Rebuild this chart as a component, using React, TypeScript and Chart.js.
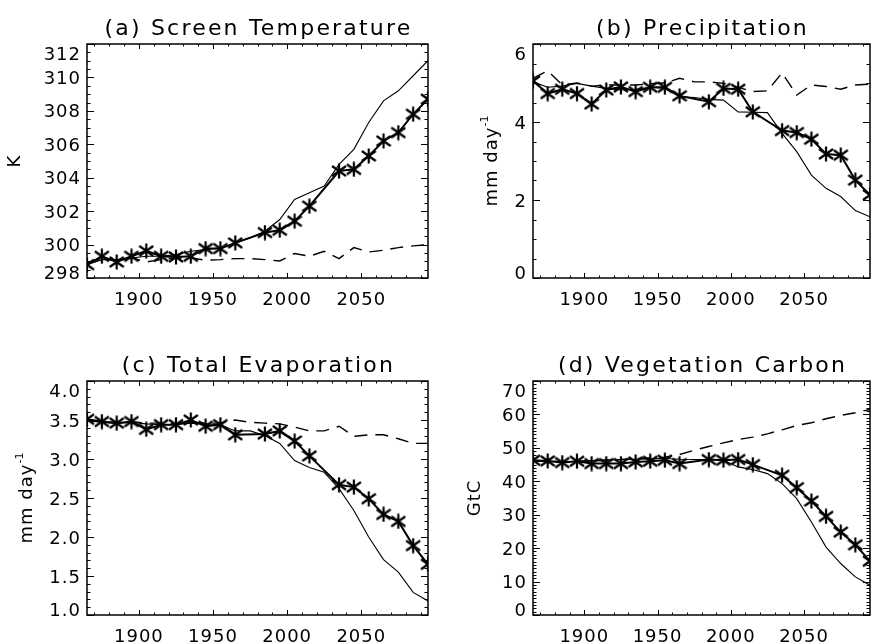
import React, { useEffect, useRef } from "react";
import { Chart, registerables } from "chart.js";
Chart.register(...registerables);

// ---------- data ----------
const DECADE_YEARS = [1865, 1875, 1885, 1895, 1905, 1915, 1925, 1935, 1945, 1955, 1965, 1975, 1985, 1995, 2005, 2015, 2025, 2035, 2045, 2055, 2065, 2075, 2085, 2095];
const MARKED_YEARS = [1865, 1875, 1885, 1895, 1905, 1915, 1925, 1935, 1945, 1955, 1965, 1985, 1995, 2005, 2015, 2035, 2045, 2055, 2065, 2075, 2085, 2095];
const X_TICK_LABELS = [1900, 1950, 2000, 2050];

const tempStar = [298.8, 299.3, 298.96, 299.3, 299.62, 299.3, 299.26, 299.3, 299.76, 299.76, 300.1, 300.72, 300.86, 301.4, 302.3, 304.4, 304.5, 305.3, 306.2, 306.7, 307.8, 308.7];
const tempThin = [298.8, 299.1, 299.1, 299.2, 299.3, 299.3, 299.4, 299.6, 299.7, 299.8, 300.1, 300.4, 300.8, 301.5, 302.7, 303.1, 303.5, 304.8, 305.7, 307.3, 308.6, 309.2, 310.1, 311.0];
const tempCtrl = [298.9, 299.2, 299.0, 299.2, 298.96, 299.1, 299.2, 299.2, 299.06, 299.1, 299.16, 299.16, 299.1, 299.02, 299.46, 299.3, 299.6, 299.16, 299.82, 299.56, 299.66, 299.82, 299.92, 300.0];
const tempTicks = [298, 300, 302, 304, 306, 308, 310, 312];

const precStar = [5.05, 4.73, 4.84, 4.73, 4.46, 4.82, 4.9, 4.78, 4.89, 4.89, 4.67, 4.52, 4.86, 4.84, 4.26, 3.78, 3.73, 3.56, 3.18, 3.15, 2.51, 2.13];
const precThin = [5.03, 4.89, 4.92, 4.99, 4.92, 4.86, 4.82, 4.84, 4.89, 4.86, 4.65, 4.63, 4.58, 4.56, 4.26, 4.25, 4.24, 3.71, 3.24, 2.64, 2.3, 2.09, 1.73, 1.57];
const precCtrl = [5.12, 5.31, 4.95, 5.0, 4.92, 4.95, 4.95, 4.95, 4.98, 5.0, 5.12, 5.03, 5.03, 4.99, 4.89, 4.78, 4.8, 5.26, 4.69, 4.95, 4.91, 4.84, 4.95, 4.97];
const precTicks = [0, 2, 4, 6];

const evapStar = [3.51, 3.48, 3.46, 3.48, 3.38, 3.44, 3.44, 3.5, 3.42, 3.44, 3.31, 3.32, 3.36, 3.23, 3.04, 2.67, 2.64, 2.49, 2.29, 2.2, 1.89, 1.65];
const evapThin = [3.49, 3.47, 3.46, 3.47, 3.45, 3.44, 3.44, 3.46, 3.45, 3.44, 3.36, 3.36, 3.3, 3.2, 2.98, 2.89, 2.83, 2.62, 2.34, 2.0, 1.71, 1.55, 1.29, 1.18];
const evapCtrl = [3.5, 3.48, 3.47, 3.48, 3.46, 3.46, 3.45, 3.47, 3.46, 3.46, 3.5, 3.47, 3.46, 3.45, 3.41, 3.36, 3.36, 3.42, 3.29, 3.31, 3.31, 3.26, 3.2, 3.2];
const evapTicks = [1.0, 1.5, 2.0, 2.5, 3.0, 3.5, 4.0];

const vegStar = [46.3, 46.1, 45.6, 46.0, 45.3, 45.3, 45.3, 45.8, 46.0, 46.3, 45.3, 46.5, 46.3, 46.5, 45.0, 41.8, 38.1, 34.1, 29.5, 24.8, 21.0, 16.1];
const vegThin = [46.0, 46.0, 45.9, 46.0, 46.2, 46.4, 46.5, 46.6, 46.7, 46.8, 46.6, 46.5, 46.5, 46.3, 44.3, 43.5, 42.3, 39.3, 34.8, 27.8, 20.3, 15.4, 11.4, 8.9];
const vegCtrl = [46.0, 46.0, 45.9, 46.0, 46.1, 46.3, 46.5, 46.8, 47.0, 47.2, 48.0, 49.3, 50.4, 51.5, 52.5, 53.2, 54.2, 55.4, 56.7, 57.5, 58.7, 59.7, 60.5, 61.5];
const vegTicks = [0, 10, 20, 30, 40, 50, 60, 70];

// ---------- layout / style ----------
const FONT = '"DejaVu Sans", sans-serif';

type PanelCfg = {
  title: string;
  yTitle: string;
  ySup?: string;
  star: number[];
  thin: number[];
  ctrl: number[];
  ticks: number[];
  yMin: number;
  yMax: number;
  yMinor: number;
  decimals: number;
  left: number;
  top: number;
  w: number;
  h: number;
  pad: { left: number; top: number; right: number; bottom: number };
  yTitleOffset: number;
};

const PANELS: PanelCfg[] = [
  {
    title: "(a) Screen Temperature", yTitle: "K", star: tempStar, thin: tempThin, ctrl: tempCtrl, ticks: tempTicks,
    yMin: 298, yMax: 312, yMinor: 0.5, decimals: 0,
    left: 0, top: 0, w: 440, h: 322, pad: { left: 87, top: 44, right: 12, bottom: 44 }, yTitleOffset: 72,
  },
  {
    title: "(b) Precipitation", yTitle: "mm day", ySup: "-1", star: precStar, thin: precThin, ctrl: precCtrl, ticks: precTicks,
    yMin: 0, yMax: 6, yMinor: 0.5, decimals: 0,
    left: 440, top: 0, w: 440, h: 322, pad: { left: 93, top: 44, right: 6, bottom: 44 }, yTitleOffset: 41,
  },
  {
    title: "(c) Total Evaporation", yTitle: "mm day", ySup: "-1", star: evapStar, thin: evapThin, ctrl: evapCtrl, ticks: evapTicks,
    yMin: 1, yMax: 4, yMinor: 0.1, decimals: 1,
    left: 0, top: 322, w: 440, h: 322, pad: { left: 87, top: 59, right: 12, bottom: 29 }, yTitleOffset: 60,
  },
  {
    title: "(d) Vegetation Carbon", yTitle: "GtC", star: vegStar, thin: vegThin, ctrl: vegCtrl, ticks: vegTicks,
    yMin: 0, yMax: 70, yMinor: 1, decimals: 0,
    left: 440, top: 322, w: 440, h: 322, pad: { left: 93, top: 59, right: 6, bottom: 29 }, yTitleOffset: 58,
  },
];

function makeAsterisk(): HTMLCanvasElement {
  const c = document.createElement("canvas");
  c.width = 16;
  c.height = 16;
  const g = c.getContext("2d")!;
  g.strokeStyle = "#000";
  g.lineWidth = 2.2;
  g.lineCap = "butt";
  g.beginPath();
  g.moveTo(8, 0.5); g.lineTo(8, 15.5);
  g.moveTo(1, 3); g.lineTo(15, 13);
  g.moveTo(1, 13); g.lineTo(15, 3);
  g.stroke();
  return c;
}

function makeAxesPlugin(p: PanelCfg) {
  return {
    id: "idlAxes",
    afterDraw(chart: any) {
      const { ctx, chartArea: a, scales } = chart;
      const xs = scales.x;
      const ys = scales.y;
      ctx.save();
      ctx.strokeStyle = "#000";
      ctx.fillStyle = "#000";
      // tick marks on all four sides (inward)
      ctx.lineWidth = 1;
      ctx.beginPath();
      for (let yr = 1870; yr <= 2090; yr += 10) {
        const px = Math.round(xs.getPixelForValue(yr)) + 0.5;
        const len = yr % 50 === 0 ? 5 : 2.5;
        ctx.moveTo(px, a.bottom);
        ctx.lineTo(px, a.bottom - len);
        ctx.moveTo(px, a.top);
        ctx.lineTo(px, a.top + len);
      }
      const n = Math.round((p.yMax - p.yMin) / p.yMinor);
      for (let i = 0; i <= n; i++) {
        const v = p.yMin + i * p.yMinor;
        const isMajor = p.ticks.some((t) => Math.abs(t - v) < 1e-6);
        const py = Math.round(ys.getPixelForValue(v)) + 0.5;
        const len = isMajor ? 7 : 3.5;
        ctx.moveTo(a.left, py);
        ctx.lineTo(a.left + len, py);
        ctx.moveTo(a.right, py);
        ctx.lineTo(a.right - len, py);
      }
      ctx.stroke();
      // box
      ctx.lineWidth = 1.5;
      ctx.strokeRect(a.left, a.top, a.right - a.left, a.bottom - a.top);

      // x tick labels
      ctx.font = `18px ${FONT}`;
      (ctx as any).letterSpacing = "1px";
      ctx.textAlign = "center";
      ctx.textBaseline = "alphabetic";
      for (const yr of X_TICK_LABELS) {
        ctx.fillText(String(yr), xs.getPixelForValue(yr), a.bottom + 27);
      }
      // y tick labels (extreme labels kept inside the box height)
      ctx.textAlign = "right";
      for (const t of p.ticks) {
        let cy = ys.getPixelForValue(t);
        cy = Math.max(a.top + 9.5, Math.min(a.bottom - 6, cy));
        ctx.fillText(t.toFixed(p.decimals), a.left - 6, cy + 6.5);
      }
      // title
      ctx.font = `22px ${FONT}`;
      (ctx as any).letterSpacing = "2.2px";
      ctx.textAlign = "center";
      ctx.fillText(p.title, (a.left + a.right) / 2 + 1, a.top - 9.5);

      // y-axis title (rotated)
      ctx.save();
      ctx.translate(a.left - p.yTitleOffset, (a.top + a.bottom) / 2);
      ctx.rotate(-Math.PI / 2);
      ctx.font = `18px ${FONT}`;
      (ctx as any).letterSpacing = "1px";
      ctx.textBaseline = "middle";
      const w1 = ctx.measureText(p.yTitle).width;
      let w2 = 0;
      if (p.ySup) {
        ctx.font = `11px ${FONT}`;
        (ctx as any).letterSpacing = "0px";
        w2 = ctx.measureText(p.ySup).width;
      }
      const start = -(w1 + w2) / 2;
      ctx.font = `18px ${FONT}`;
      (ctx as any).letterSpacing = "1px";
      ctx.textAlign = "left";
      ctx.fillText(p.yTitle, start, 0);
      if (p.ySup) {
        ctx.font = `11px ${FONT}`;
        (ctx as any).letterSpacing = "0px";
        ctx.fillText(p.ySup, start + w1, -7);
      }
      ctx.restore();
      ctx.restore();
    },
  };
}

function Panel({ cfg }: { cfg: PanelCfg }) {
  const ref = useRef<HTMLCanvasElement>(null);
  useEffect(() => {
    const marker = makeAsterisk();
    const chart = new Chart(ref.current!, {
      type: "line",
      data: {
        datasets: [
          {
            data: MARKED_YEARS.map((x, i) => ({ x, y: cfg.star[i] })),
            borderColor: "#000",
            backgroundColor: "#000",
            borderWidth: 2,
            pointStyle: marker as any,
            pointRadius: 8,
            tension: 0,
            clip: 0 as any,
          },
          {
            data: DECADE_YEARS.map((x, i) => ({ x, y: cfg.thin[i] })),
            borderColor: "#000",
            borderWidth: 1.1,
            pointRadius: 0,
            tension: 0,
            clip: 0 as any,
          },
          {
            data: DECADE_YEARS.map((x, i) => ({ x, y: cfg.ctrl[i] })),
            borderColor: "#000",
            borderWidth: 1.4,
            borderDash: [13, 8],
            pointRadius: 0,
            tension: 0,
            clip: 0 as any,
          },
        ],
      },
      options: {
        animation: false,
        responsive: false,
        devicePixelRatio: 1,
        events: [],
        layout: { padding: cfg.pad },
        plugins: { legend: { display: false }, tooltip: { enabled: false }, title: { display: false } },
        scales: {
          x: { type: "linear", min: 1865, max: 2095, display: false },
          y: { type: "linear", min: cfg.yMin, max: cfg.yMax, display: false },
        },
      },
      plugins: [makeAxesPlugin(cfg)],
    });
    return () => chart.destroy();
  }, [cfg]);
  return (
    <canvas
      ref={ref}
      width={cfg.w}
      height={cfg.h}
      style={{ position: "absolute", left: cfg.left, top: cfg.top, width: cfg.w, height: cfg.h }}
    />
  );
}

export default function App() {
  return (
    <div
      style={{
        position: "fixed",
        left: 0,
        top: 0,
        width: 872,
        height: 644,
        overflow: "hidden",
        background: "#fff",
      }}
    >
      {PANELS.map((p, i) => (
        <Panel key={i} cfg={p} />
      ))}
    </div>
  );
}
